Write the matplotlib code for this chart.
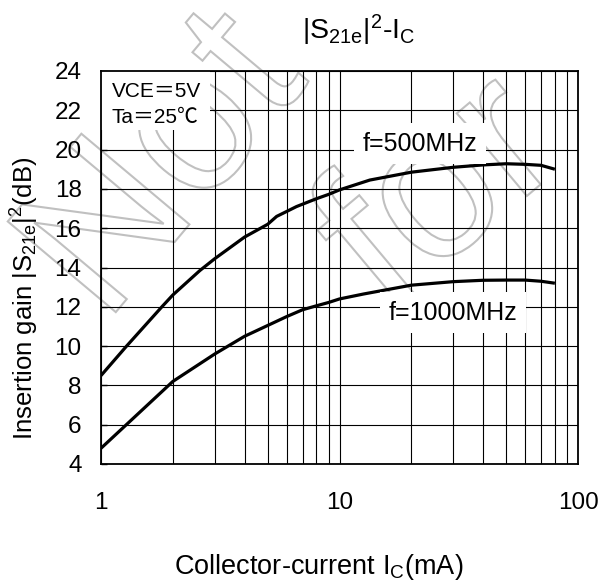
import matplotlib
matplotlib.use('Agg')
import matplotlib.pyplot as plt
from matplotlib.patches import Rectangle, PathPatch
from matplotlib.textpath import TextPath
from matplotlib.font_manager import FontProperties
from matplotlib.transforms import Affine2D

plt.rcParams['font.family'] = ['Liberation Sans', 'Noto Sans CJK JP', 'DejaVu Sans']
plt.rcParams['mathtext.fontset'] = 'custom'
plt.rcParams['mathtext.rm'] = 'Liberation Sans'
plt.rcParams['mathtext.it'] = 'Liberation Sans'
plt.rcParams['mathtext.default'] = 'regular'

# data
ic_500 = [1, 1.28, 1.8, 2, 2.6, 3, 4, 5, 5.45, 6, 6.6, 8, 9, 10, 13.4, 20, 30, 40, 50, 60, 70, 80]
gain_500 = [8.5, 10.0, 12.0, 12.6, 13.85, 14.45, 15.55, 16.2, 16.6, 16.85, 17.1, 17.5, 17.72, 17.95,
            18.45, 18.85, 19.1, 19.22, 19.28, 19.25, 19.2, 19.0]

ic_1000 = [1, 2, 3, 4, 5, 6, 7, 8, 9, 10, 12.6, 20, 30, 40, 50, 60, 70, 80]
gain_1000 = [4.8, 8.2, 9.6, 10.5, 11.05, 11.5, 11.85, 12.05, 12.22, 12.4, 12.65, 13.1, 13.28,
             13.35, 13.36, 13.36, 13.3, 13.2]

y_ticks = [4, 6, 8, 10, 12, 14, 16, 18, 20, 22, 24]
x_ticks = [1, 10, 100]
x_tick_labels = ['1', '10', '100']

W, H = 603, 581
fig = plt.figure(figsize=(W / 100, H / 100), dpi=100, facecolor='white')
ax = fig.add_axes([101 / W, 1 - 464 / H, 477 / W, 393 / H])
ax.patch.set_alpha(0)

ax.plot(ic_500, gain_500, color='black', lw=2.3, zorder=3, solid_capstyle='butt')
ax.plot(ic_1000, gain_1000, color='black', lw=2.3, zorder=3, solid_capstyle='butt')

ax.set_xscale('log')
ax.set_xlim(1, 100)
ax.set_ylim(4, 24)
ax.set_yticks(y_ticks)
ax.set_xticks(x_ticks)
ax.set_xticklabels(x_tick_labels)
ax.grid(True, which='both', axis='x', color='black', lw=0.8)
ax.grid(True, which='major', axis='y', color='black', lw=0.8)
ax.tick_params(axis='x', which='both', length=0, pad=20, labelsize=17.5)
ax.tick_params(axis='y', direction='in', length=4, width=1, pad=14, labelsize=17.5)
for s in ax.spines.values():
    s.set_linewidth(1.3)

# condition box
ax.add_patch(Rectangle((0, 0.85), 0.228, 0.15, transform=ax.transAxes,
                       facecolor='white', edgecolor='none', zorder=2))
ax.text(0.023, 0.948, 'VCE＝5V', transform=ax.transAxes, fontsize=15, va='center', ha='left', zorder=4)
ax.text(0.023, 0.882, 'Ta＝25℃', transform=ax.transAxes, fontsize=15, va='center', ha='left', zorder=4)

box = dict(facecolor='white', edgecolor='none', pad=6)
ax.text(21.75, 20.3, 'f=500MHz', fontsize=18, ha='center', va='center', bbox=box, zorder=4)
ax.text(29.9, 11.7, 'f=1000MHz', fontsize=18, ha='center', va='center', bbox=box, zorder=4)

fig.text(359 / W, 1 - 30 / H, r'|S$_{21e}$|$^{2}$-I$_{C}$', fontsize=20.5, ha='center', va='center')
fig.text(319 / W, 1 - 567 / H, r'Collector-current I$_{C}$(mA)', fontsize=19.5, ha='center', va='center')
fig.text(25 / W, 1 - 298 / H, r'Insertion gain |S$_{21e}$|$^{2}$(dB)', fontsize=18.5,
         rotation=90, ha='center', va='center')

# watermark outline text, under the plot
fp = FontProperties(family='Liberation Sans')
for word, (px, py), ang in [('Not', (105, 325), 50), ('for', (385, 315), 40)]:
    tp = TextPath((0, 0), word, size=205, prop=fp)
    tr = Affine2D().rotate_deg(ang).translate(px, H - py)
    fig.add_artist(PathPatch(tp, transform=tr, facecolor='none', edgecolor='#c0c0c0', lw=1.5, zorder=-1))

fig.savefig('out.png', dpi=100, facecolor='white')
